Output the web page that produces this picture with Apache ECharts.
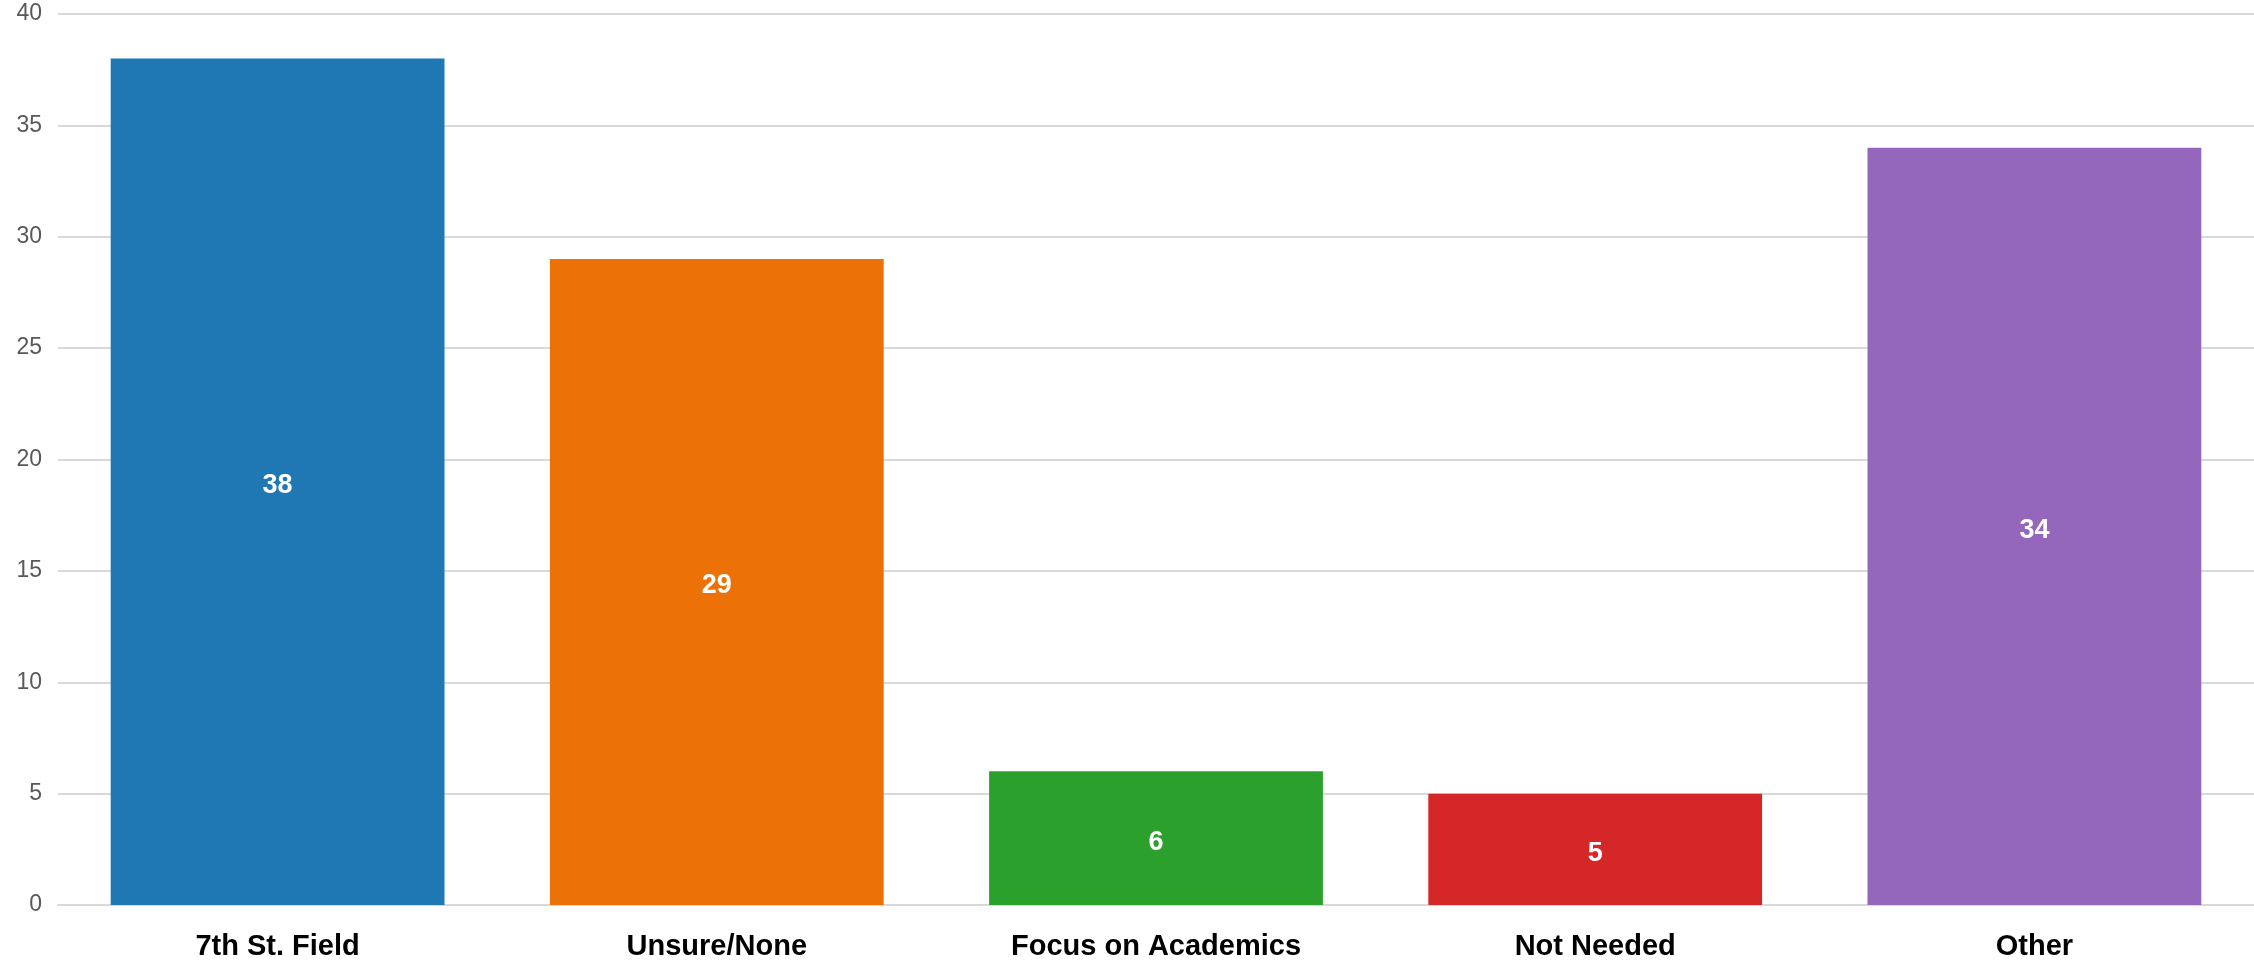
<!DOCTYPE html>
<html><head><meta charset="utf-8">
<style>html,body{margin:0;padding:0;background:#fff}#c{width:2254px;height:961px}</style>
<script src="https://cdn.jsdelivr.net/npm/echarts@6/dist/echarts.min.js"></script>
</head><body><div id="c"></div>
<script>
const categories = ["7th St. Field", "Unsure/None", "Focus on Academics", "Not Needed", "Other"];
const values = [38, 29, 6, 5, 34];
const colors = ["#1f77b4", "#ec7106", "#2ca02c", "#d62728", "#9467bd"];
const yTicks = {min: 0, max: 40, interval: 5};
const FONT = '"Liberation Sans", Arial, sans-serif';

const chart = echarts.init(document.getElementById('c'));
chart.setOption({
  animation: false,
  grid: {left: 58, right: 0, top: 14, bottom: 56, containLabel: false},
  xAxis: {
    type: 'category', data: categories,
    axisLine: {show: true, lineStyle: {color: '#d9d9d9', width: 2}},
    axisTick: {show: false},
    axisLabel: {color: '#000', fontSize: 29, fontWeight: 'bold', fontFamily: FONT, margin: 27}
  },
  yAxis: {
    type: 'value', min: yTicks.min, max: yTicks.max, interval: yTicks.interval,
    axisLine: {show: false}, axisTick: {show: false},
    splitLine: {lineStyle: {color: '#d9d9d9', width: 2}},
    axisLabel: {color: '#595959', fontSize: 23, fontFamily: FONT, margin: 16}
  },
  series: [{
    type: 'bar',
    data: values.map((v, i) => ({value: v, itemStyle: {color: colors[i]}})),
    barCategoryGap: '24%',
    label: {show: true, position: 'inside', color: '#fff', fontSize: 27, fontWeight: 'bold', fontFamily: FONT, offset: [0, 4]}
  }]
});
</script></body></html>
